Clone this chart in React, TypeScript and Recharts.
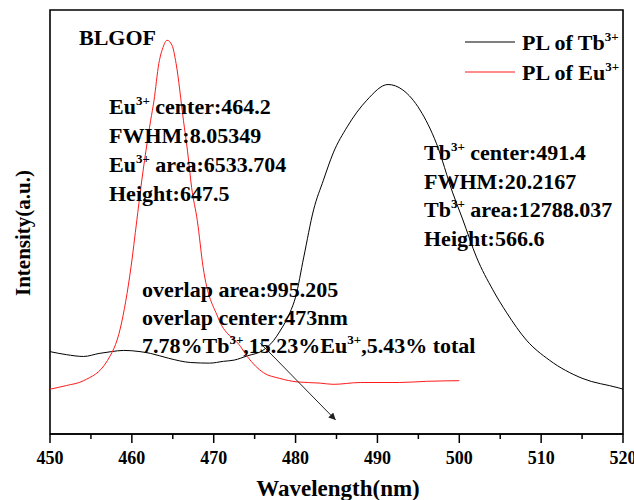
import React from 'react';
import { LineChart, Line, XAxis, YAxis, ReferenceArea } from 'recharts';

// Eu3+ emission (red)
const euWavelength = [450, 452, 454.1, 457, 458.6, 459.9, 460.6, 461.1, 462.3, 462.7, 463.3, 463.8, 464.3, 464.9, 465.4, 466.3, 466.8, 467.3, 468, 468.7, 470.5, 473.3, 474.1, 476.1, 478, 480.2, 483, 484.6, 487.9, 492.7, 496, 500];
const euIntensity = [74, 80, 88, 121, 175, 276, 352, 407, 518, 550, 612, 638, 650, 642, 612, 518, 467, 407, 352, 276, 193, 144, 128, 101, 92, 86, 84, 82, 85, 85, 87, 88];

// Tb3+ emission (black)
const tbWavelength = [450, 452, 454.1, 456, 457.5, 459, 461, 462.3, 464.5, 467.2, 469.5, 471.2, 472.5, 474.1, 476, 477.3, 478.1, 479.3, 480, 481, 482.2, 483.4, 484.6, 486.3, 488.7, 491.3, 493.1, 495.2, 497.2, 499.2, 500.4, 502.1, 504.1, 505.8, 508.2, 511, 515, 519.5, 520];
const tbIntensity = [136, 131, 128, 133, 136, 138, 136, 133, 125, 118, 117, 120, 122, 129, 138, 154, 170, 200, 226, 292, 370, 419, 464, 507, 551, 577, 568, 535, 480, 398, 355, 292, 238, 200, 155, 122, 92, 76, 74];

// overlap arrow
const arrowX = [475.7, 484.9];
const arrowY = [150, 23];

const xTicks = [450, 455, 460, 465, 470, 475, 480, 485, 490, 495, 500, 505, 510, 515, 520];

const euLines = [
  [['Eu'], ['3+', 1], [' center:464.2']],
  [['FWHM:8.05349']],
  [['Eu'], ['3+', 1], [' area:6533.704']],
  [['Height:647.5']],
];
const tbLines = [
  [['Tb'], ['3+', 1], [' center:491.4']],
  [['FWHM:20.2167']],
  [['Tb'], ['3+', 1], [' area:12788.037']],
  [['Height:566.6']],
];
const overlapLines = [
  [['overlap area:995.205']],
  [['overlap center:473nm']],
  [['7.78%Tb'], ['3+', 1], [',15.23%Eu'], ['3+', 1], [',5.43% total']],
];

const euData = euWavelength.map((x, i) => ({ x, y: euIntensity[i] }));
const tbData = tbWavelength.map((x, i) => ({ x, y: tbIntensity[i] }));
const arrowData = arrowX.map((x, i) => ({ x, y: arrowY[i] }));

const FONT = "'Liberation Serif', 'Times New Roman', serif";

const RichText = ({ x, y, parts, size = 22 }: any) => (
  <text x={x} y={y} fontFamily={FONT} fontWeight="bold" fontSize={size} fill="#000">
    {parts.map((p: any, i: number) => {
      const sup = p[1] === 1;
      const prevSup = i > 0 && parts[i - 1][1] === 1;
      return (
        <tspan key={i} fontSize={sup ? 13 : size} dy={sup ? -9 : prevSup ? 9 : 0}>
          {p[0]}
        </tspan>
      );
    })}
  </text>
);

const WaveTick = (props: any) => {
  const { x, y, payload } = props;
  const major = payload.value % 10 === 0;
  return (
    <g>
      <line x1={x} y1={y} x2={x} y2={y + (major ? 9 : 5)} stroke="#000" strokeWidth={1.5} />
      {major && (
        <text x={x} y={y + 30} textAnchor="middle" fontFamily={FONT} fontWeight="bold" fontSize={18} fill="#000">
          {payload.value}
        </text>
      )}
    </g>
  );
};

export default function App() {
  return (
    <div style={{ position: 'relative', width: 634, height: 500, overflow: 'hidden', background: '#fff' }}>
      <style>{'body{margin:0}'}</style>
      <LineChart width={634} height={500} margin={{ top: 10, right: 11, left: 50, bottom: 0 }}>
        <defs>
          <marker id="arrowHead" viewBox="0 0 10 10" refX="10" refY="5" markerWidth="11" markerHeight="7" markerUnits="userSpaceOnUse" orient="auto">
            <path d="M0,0 L10,5 L0,10 z" fill="#222" />
          </marker>
        </defs>
        <XAxis
          dataKey="x"
          type="number"
          domain={[450, 520]}
          ticks={xTicks}
          interval={0}
          height={66}
          tickSize={0}
          tickMargin={0}
          tickLine={false}
          tick={<WaveTick />}
          axisLine={{ stroke: '#000', strokeWidth: 1.5 }}
          allowDataOverflow
        />
        <YAxis type="number" domain={[0, 700]} hide />
        <ReferenceArea x1={450} x2={520} y1={0} y2={700} fill="none" fillOpacity={0} stroke="#000" strokeWidth={1.6} />
        <Line data={tbData} dataKey="y" type="monotone" stroke="#000" strokeWidth={1} dot={false} isAnimationActive={false} />
        <Line data={euData} dataKey="y" type="monotone" stroke="#ff1a1a" strokeWidth={1} dot={false} isAnimationActive={false} />
        <Line data={arrowData} dataKey="y" type="linear" stroke="#222" strokeWidth={1} dot={false} markerEnd="url(#arrowHead)" isAnimationActive={false} />
      </LineChart>
      <svg width={634} height={500} style={{ position: 'absolute', left: 0, top: 0, pointerEvents: 'none' }}>
        <text x={79} y={45} fontFamily={FONT} fontWeight="bold" fontSize={22}>BLGOF</text>
        {euLines.map((parts, i) => (
          <RichText key={'e' + i} x={109} y={114 + i * 29} parts={parts} />
        ))}
        {tbLines.map((parts, i) => (
          <RichText key={'t' + i} x={424} y={160 + i * 28.7} parts={parts} />
        ))}
        {overlapLines.map((parts, i) => (
          <RichText key={'o' + i} x={142} y={297 + i * 28} parts={parts} />
        ))}
        <line x1={465} y1={42} x2={515} y2={42} stroke="#000" strokeWidth={1} />
        <RichText x={522} y={50} parts={[['PL of Tb'], ['3+', 1]]} />
        <line x1={465} y1={72} x2={515} y2={72} stroke="#ff1a1a" strokeWidth={1} />
        <RichText x={522} y={80} parts={[['PL of Eu'], ['3+', 1]]} />
        <text x={338} y={496} textAnchor="middle" fontFamily={FONT} fontWeight="bold" fontSize={23}>Wavelength(nm)</text>
        <text x={30} y={233} textAnchor="middle" transform="rotate(-90 30 233)" fontFamily={FONT} fontWeight="bold" fontSize={21}>Intensity(a.u.)</text>
      </svg>
    </div>
  );
}
